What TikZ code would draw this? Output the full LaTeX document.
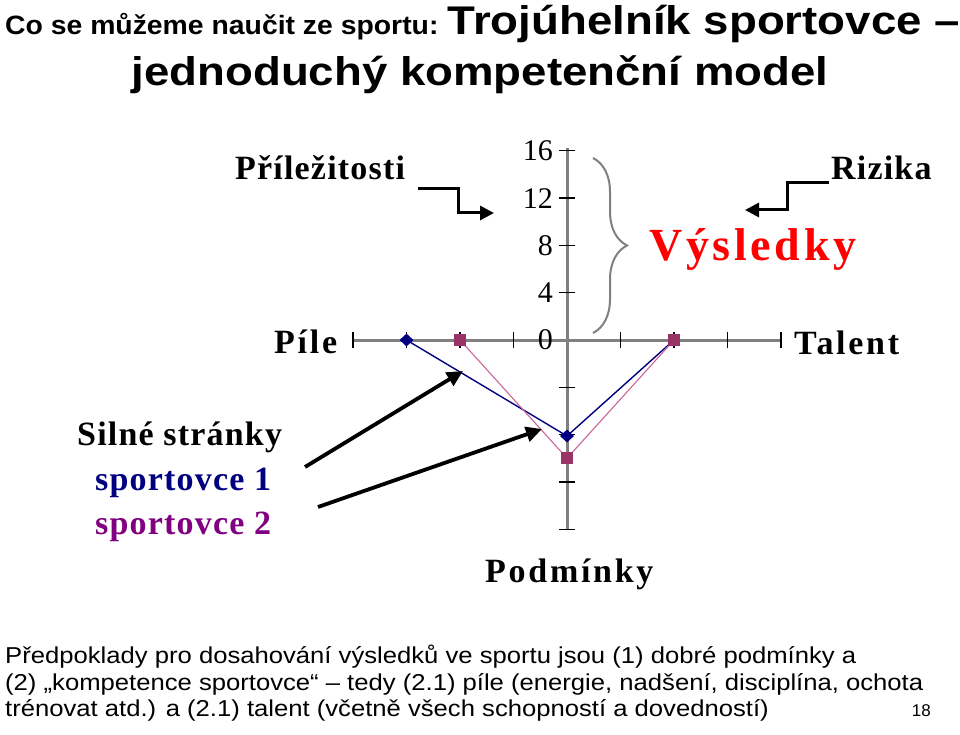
\documentclass[tikz,border=0pt]{standalone}
\usepackage{fontspec}
\setmainfont{Liberation Serif}
\setsansfont{Liberation Sans}
\newfontfamily\labfont{Liberation Serif}[LetterSpace=3.5]
\newfontfamily\widelabfont{Liberation Serif}[LetterSpace=8]
\newfontfamily\bigsf{Liberation Sans}[FakeStretch=1.14]
\newfontfamily\smallsf{Liberation Sans}[FakeStretch=1.07]
\newfontfamily\notesf{Liberation Sans}[FakeStretch=1.115]
\usetikzlibrary{arrows.meta,decorations.pathreplacing,positioning,shapes.geometric}
\definecolor{axisgray}{HTML}{808080}
\definecolor{navy}{HTML}{000080}
\definecolor{plum}{HTML}{993366}
\definecolor{rose}{HTML}{CC6699}
\definecolor{violet}{HTML}{800080}
\tikzset{axisline/.style={draw=axisgray,line width=3pt},tickmark/.style={draw=black,line width=1.4pt},athlabel/.style={font=\labfont\bfseries\fontsize{34}{36}\selectfont,inner sep=0pt,anchor=base west},widelabel/.style={athlabel,font=\widelabfont\bfseries\fontsize{34}{36}\selectfont},scalelabel/.style={font=\fontsize{30}{32}\selectfont,inner sep=0pt,anchor=east},bluemark/.style={diamond,fill=navy,inner sep=0pt,minimum width=14pt,minimum height=13pt},pinkmark/.style={rectangle,fill=plum,inner sep=0pt,minimum size=12pt},steparrow/.style={draw=black,line width=3pt,-{Triangle[length=14pt,width=14pt]}},pointer/.style={draw=black,line width=3.8pt,-{Triangle[length=16pt,width=15pt]}},notetext/.style={font=\notesf\fontsize{23}{26}\selectfont,inner sep=0pt,anchor=base west}}
\begin{document}
\begin{tikzpicture}[x=1pt,y=-1pt]
\useasboundingbox[fill=white] (0,0) rectangle (960,735);
% title
\node[inner sep=0pt,anchor=base west,font=\smallsf\bfseries\fontsize{26.5}{28}\selectfont] (ttlA) at (5,35) {Co se můžeme naučit ze sportu:};
\node[inner sep=0pt,anchor=base west,font=\bigsf\bfseries\fontsize{40}{42}\selectfont] (ttlB) at ([xshift=9pt]ttlA.base east) {Trojúhelník sportovce –};
\node[inner sep=0pt,anchor=base,font=\bigsf\bfseries\fontsize{40}{42}\selectfont] (ttlC) at (480,86) {jednoduchý kompetenční model};
% axes, scale and athletes
\begin{scope}[shift={(567,340)},x=53.5pt,y=47.3pt]
\draw[axisline] (-4,0)--(4,0);
\draw[axisline] (0,-4)--(0,4.05);
\foreach \x in {-4,-3,-2,-1,1,2,3,4} {\draw[tickmark] (\x,-.17)--(\x,.17);}
\foreach \y in {-4,-3,-2,-1,1,2,3,4} {\draw[tickmark] (-.15,\y)--(.15,\y);}
\foreach \y/\lab in {0/0,1/4,2/8,3/12,4/16} {\node[scalelabel] (sc\lab) at (-.26,\y) {\lab};}
\coordinate (b1) at (-3,0); \coordinate (b2) at (0,-2.03); \coordinate (b3) at (2,0);
\coordinate (p1) at (-2,0); \coordinate (p2) at (0,-2.5); \coordinate (p3) at (2,0);
\draw[navy,line width=1.4pt] (b1)--(b2)--(b3);
\draw[rose,line width=1.1pt] (p1)--(p2)--(p3);
\node[bluemark] (b1m) at (b1) {}; \node[bluemark] (b2m) at (b2) {};
\node[pinkmark] (p1m) at (p1) {}; \node[pinkmark] (p2m) at (p2) {}; \node[pinkmark] (p3m) at (p3) {};
\end{scope}
\draw[axisgray,line width=2pt,decorate,decoration={brace,amplitude=34pt}] (593,158)--(593,333);
% labels
\node[athlabel] (prilez) at (235,180) {Příležitosti};
\node[athlabel] (rizika) at (831,180) {Rizika};
\node[widelabel] (pile) at (274,353) {Píle};
\node[widelabel] (talent) at (794,354) {Talent};
\node[athlabel] (silne) at (77,445) {Silné stránky};
\node[athlabel,text=navy] (sport1) at (95,490) {sportovce 1};
\node[athlabel,text=violet] (sport2) at (95,534) {sportovce 2};
\node[widelabel] (podm) at (485,582) {Podmínky};
\node[athlabel,text=red,font=\widelabfont\bfseries\fontsize{46}{48}\selectfont] (vysl) at (649,260) {Výsledky};
% arrows
\coordinate (pa0) at (418,189); \coordinate (pa1) at (458,213); \coordinate (pa2) at (494,213);
\draw[steparrow] (pa0) -| (pa1) -- (pa2);
\coordinate (ra0) at (829,183); \coordinate (ra1) at (787,210); \coordinate (ra2) at (745,210);
\draw[steparrow] (ra0) -| (ra1) -- (ra2);
\coordinate (sa0) at (305,467); \coordinate (sa1) at (463,371);
\coordinate (sb0) at (318,507); \coordinate (sb1) at (542,429);
\draw[pointer] (sa0)--(sa1);
\draw[pointer] (sb0)--(sb1);
% note
\node[notetext] (note1) at (5,663) {Předpoklady pro dosahování výsledků ve sportu jsou (1) dobré podmínky a};
\node[notetext] (note2) at (5,690) {(2) „kompetence sportovce“ – tedy (2.1) píle (energie, nadšení, disciplína, ochota};
\node[notetext] (note3) at (5,716) {trénovat atd.) a (2.1) talent (včetně všech schopností a dovedností)};
\node[inner sep=0pt,anchor=base east,font=\sffamily\fontsize{17}{19}\selectfont] (pgno) at (931,716) {18};
\end{tikzpicture}
\end{document}
